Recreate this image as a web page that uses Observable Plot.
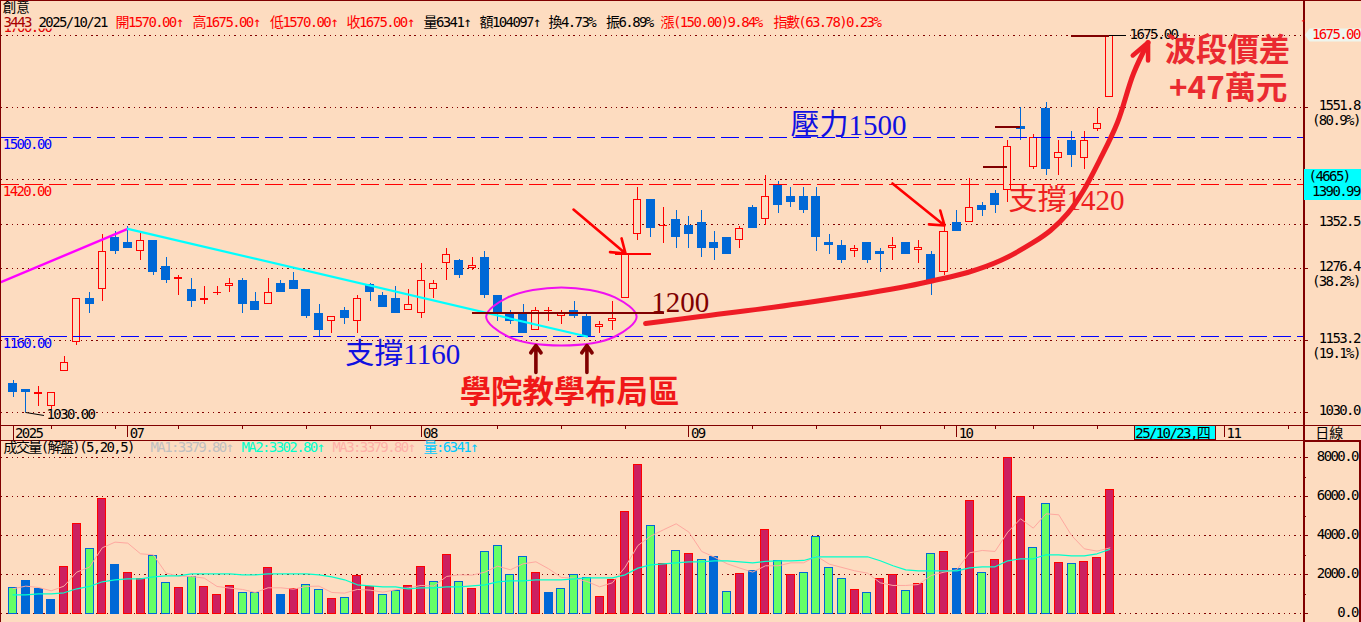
<!DOCTYPE html>
<html lang="zh-Hant">
<head>
<meta charset="utf-8">
<title>創意 3443 日線</title>
<script src="https://cdn.jsdelivr.net/npm/d3@7"></script>
<script src="https://cdn.jsdelivr.net/npm/@observablehq/plot@0.6"></script>
<style>
  html,body{margin:0;padding:0;background:#fddcc0;}
  #chart{position:relative;width:1361px;height:622px;overflow:hidden;background:#fddcc0;}
  #chart svg{position:absolute;left:0;display:block;}
  #edge{position:absolute;left:0;top:0;width:1361px;height:622px;box-sizing:border-box;border-top:1px solid #800000;border-left:1px solid #800000;pointer-events:none;}
  .mono text{letter-spacing:-1.6px;}
</style>
</head>
<body>
<div id="chart"><div id="edge"></div></div>
<script>
// ---------- price data (one entry per trading day) ----------
const opens = [1079.6,1069.3,1061.4,1040.8,1101.3,1150.9,1225,1241,1329.4,1320.9,1306,1324.3,1279.8,1258.7,1240.4,1223.3,1233.6,1246.1,1255.8,1219.9,1215.3,1250.7,1255.8,1240.4,1199.4,1186.8,1204.5,1186.8,1249,1230.2,1225,1205.6,1200.5,1241.6,1286.1,1290,1278,1295.1,1230.1,1199.3,1199.3,1171.4,1202.8,1195.4,1204.5,1194.2,1176.5,1186.8,1226.1,1335.6,1394.4,1349.3,1360.2,1349.9,1355,1320.8,1329.4,1325.4,1380.7,1361.3,1418.3,1399.5,1399.5,1399.5,1320.8,1315.7,1306.6,1320.8,1305.4,1311.7,1320.8,1307.2,1300.3,1270.7,1355.1,1355.7,1384.2,1404.7,1410.9,1519.3,1450.3,1550.1,1465.7,1495.4,1465.7,1515.3,1570];
const highs = [1084.7,1069.3,1074.5,1063.6,1125.8,1224.5,1235.3,1334.5,1339.7,1348.2,1339.7,1324.3,1295.2,1264.4,1259.3,1245.6,1245.6,1259.3,1259.3,1235.3,1259.3,1255.8,1269.5,1240.4,1214.8,1193.7,1209.6,1230.2,1250.7,1235.3,1245.6,1240.4,1284.9,1255.8,1310.6,1292,1294.6,1305.4,1230.1,1204.5,1214.7,1209.6,1209.6,1204.5,1219.9,1197,1185.7,1219.9,1300.3,1414.3,1394.4,1380.7,1375.6,1365.3,1375.6,1339.6,1329.4,1348.2,1384.1,1435.4,1425.2,1414.9,1414.9,1414.9,1334.5,1324.2,1315.7,1320.8,1310.5,1329.4,1320.8,1324.3,1304.9,1351.7,1375.6,1429.8,1389.3,1409.8,1495.4,1551.3,1505.1,1560.4,1495.4,1510.8,1510.8,1550.1,1675];
const lows = [1056.2,1030,1040.8,1035.1,1101.3,1144.6,1199.4,1219.9,1300.3,1310.6,1290,1264.4,1250.1,1230.2,1209.6,1214.8,1230.2,1235.3,1199.4,1204.5,1215.3,1235.3,1240.4,1190.8,1160,1165.2,1180.6,1165.2,1219.9,1209.6,1199.4,1205.6,1190.8,1225,1255.8,1259.3,1273,1225,1185.7,1180.5,1165.1,1171.4,1185.7,1180.5,1190.8,1160,1165.1,1170.3,1226.1,1324.2,1330,1319.1,1310.5,1310.5,1295.2,1290,1300.3,1310.5,1344.8,1350.5,1370.4,1380.7,1370.4,1305.4,1300.3,1284.9,1295.2,1284.9,1270.1,1290,1300.3,1285.5,1230.2,1263.8,1339.7,1355.7,1365.3,1370.5,1389.3,1495.4,1445.8,1435.5,1435.5,1449.2,1445.8,1510.8,1570];
const closes = [1064.2,1064.8,1063.6,1063.6,1115,1224.5,1214.8,1304.9,1305.5,1310.6,1323.7,1269.5,1255.8,1259.3,1219.9,1224.5,1234.7,1250.1,1214.8,1204.5,1234.7,1235.3,1240.4,1194.2,1170.3,1193.7,1190.8,1224.5,1235.3,1209.6,1199.4,1214.2,1255.3,1250.1,1299.8,1264.4,1279.8,1230.1,1201,1185.7,1165.1,1203.9,1204.5,1198.2,1194.2,1160,1180,1190.2,1300.3,1393.8,1345.3,1349.9,1329.4,1334.5,1310.5,1310.5,1300.3,1343.6,1344.8,1398.4,1384.1,1389.3,1375.6,1329.9,1316.3,1290,1310.5,1290,1300.9,1315.1,1300.3,1310.6,1255.8,1339.1,1339.7,1380.2,1375.6,1384.2,1484.5,1514.2,1499.9,1445.8,1474.3,1469.7,1494.8,1523.9,1675];

// ---------- volume panel ----------
const volumes = [1299,1658,1248,684,2376,4581,3299,5863,2479,2068,1761,2940,1556,1299,1863,1350,940,1402,1043,1043,2325,940,1248,1453,1197,735,786,1915,1350,940,1145,1402,2376,1607,2991,1607,1248,3145,3453,1966,2889,2068,1043,1248,1966,1846,838,1709,5197,7607,4479,2530,3197,3043,2735,2889,1094,2017,2171,4274,2718,1966,2068,3915,2325,1761,1197,1043,1761,1966,1145,1504,3043,3145,2274,5761,2068,2735,8000,5983,3350,5607,2581,2530,2632,2838,6341];
// C = crimson, G = green, B = blue
const volumeKinds = "GBBBCCGCBCCGGCGCCCGGCBCGGCGCCGGCCGCGCGGGGCBGGGCCCCGCGCGBGCBCGCGGGGCGCCGCGCBCGCCCGGCGCCC".split("");
const ma3 = [1282,1419,1350,1179,1419,2137,2393,3385,3675,3624,3077,3026,2085,1932,1915,1829,1402,1316,1248,1094,1333,1333,1265,1402,1419,1094,1060,1248,1214,1111,1231,1333,1453,1419,1915,2000,1983,2137,2444,2256,2564,2667,2308,1863,1829,1658,1385,1590,2393,3504,3983,4308,4615,4188,3197,2906,2564,2342,2137,2462,2462,2615,2615,2957,2547,2376,2205,2085,1590,1453,1453,1504,1966,2137,2256,3128,3248,3197,4188,4872,4393,5128,5077,4017,3333,3214,3380];
const ma2 = [974,974,1026,1026,1077,1282,1402,1641,1744,1795,1795,1897,1949,1949,2051,2051,2051,2051,2000,2000,2051,2051,2051,2051,2000,1897,1744,1487,1436,1385,1385,1282,1333,1333,1385,1385,1436,1487,1641,1692,1692,1744,1744,1744,1795,1846,1846,1846,2000,2342,2513,2564,2615,2667,2667,2718,2718,2667,2615,2684,2718,2718,2735,2923,2923,2923,2923,2923,2718,2462,2256,2205,2205,2205,2205,2359,2410,2410,2718,2821,2821,3026,3026,2974,2974,3077,3303];

// ---------- reference levels and ticks ----------
const gridPrices = [1675,1551.8,1428.6,1352.5,1276.4,1153.2,1030];
const axisPrices = [1551.8,1352.5,1276.4,1153.2,1030];
const axisPriceLabels = ["1551.8","1352.5","1276.4","1153.2","1030.0"];
const axisPercents = [[1551.8,"(80.9%)"],[1276.4,"(38.2%)"],[1153.2,"(19.1%)"]];
const dashedLevels = [[1500,"#0000ff","1500.00"],[1420,"#ff0000","1420.00"],[1160,"#0000ff","1160.00"]];
const minorDays = [3,8,13,18,23,28,38,43,48,58,63,68,73,77,80,85,100];
const monthDays = [0,9,32,53,74,95];
const monthLabels = ["2025","07","08","09","10","11"];
const volumeGrid = [0,2000,4000,6000,8000];
const volumeMinor = [1000,3000,5000,7000];

// ---------- drawn annotations, in (day index, price) ----------
const riseLine = [[-1,1252.4],[9,1344.2]];
const fallLine = [[9,1344.2],[45,1160]];
const zoneRing = [[37.1,1194],[38.8,1227],[43,1244],[47.2,1227],[48.9,1194],[47.2,1160],[43,1144.6],[38.8,1160]];
const waveCurve = [[49.6,1182.3],[53.9,1194.2],[61.75,1216.5],[69.6,1243.9],[72.2,1255.8],[74.85,1269.5],[77.43,1290],[80,1320.9],[81.35,1341.4],[82.7,1370.5],[83.94,1409.8],[85.27,1464.6],[86.6,1526.2],[87.86,1610],[89,1663]];
const waveHead = [[87.8,1640.8],[89,1663],[89,1632.2]];
const redArrows = [[43.95,1377.3,48.03,1302],[68.96,1421.8,73.04,1350]];
const brownArrows = [[41,1098.4,41,1144.6],[45,1098.4,45,1144.6]];
const brownSegments = [[36,51.1,1200],[76.1,78,1450],[77,79,1519.3],[83,86,1675]];
const redSegments = [[47.25,50.07,1301]];
const serifNotes = [
  ["壓力1500",60.97,1521,"#1010e0"],
  ["支撐1160",26.05,1129,"#1010e0"],
  ["1200",50.05,1218,"#800000"],
  ["支撐1420",78.05,1392.7,"#ee2020"]
];
const boldNotes = [
  ["學院教學布局區",35.02,1064,"#f01818"],
  ["波段價差",90.3,1649.3,"#ea2a30"],
  ["+47萬元",90.65,1584.3,"#ea2a30"]
];

// ---------- header strings ----------
const priceHeader = [
  ["3443",3,"#a80000"],["2025/10/21",38,"#000000"],
  ["開1570.00↑",115,"#ff0000"],["高1675.00↑",192,"#ff0000"],["低1570.00↑",269.5,"#ff0000"],["收1675.00↑",346,"#ff0000"],
  ["量6341↑",423,"#000000"],["額104097↑",479,"#000000"],["換4.73%",548,"#000000"],["振6.89%",605.6,"#000000"],
  ["漲(150.00)9.84%",660,"#ff0000"],["指數(63.78)0.23%",773,"#ff0000"]
];
const volumeHeader = [
  ["成交量(解盤)(5,20,5)",3,"#000000"],["MA1:3379.80↑",150,"#c0c0c0"],["MA2:3302.80↑",241,"#00ffcc"],
  ["MA3:3379.80↑",332,"#ffb0a8"],["量:6341↑",423,"#00c8ff"]
];

// ---------- shared styling ----------
const bg = "#fddcc0", maroon = "#800000", blue = "#0068d6", red = "#ff0000";
const monoFont = "'DejaVu Sans Mono','Noto Sans CJK TC',monospace";
const days = d3.range(opens.length);
const xDomain = {domain:[0,86],range:[12.5,1109.3],axis:null};
const rightEdge = 101.2, farRight = 105.6, leftEdge = -0.9, screenRight = 105.8;
const mono = {fontFamily:monoFont,fontSize:14,className:"mono"};
const crisp = {shapeRendering:"crispEdges"};

const up = days.filter(i => closes[i] >= opens[i]);
const down = days.filter(i => closes[i] < opens[i]);

const pricePlot = Plot.plot({
  width:1361,height:441,marginTop:0,marginBottom:0,marginLeft:0,marginRight:0,
  x:xDomain,
  y:{domain:[1030,1675],range:[412,35],axis:null},
  style:{background:"transparent",top:"0px"},
  marks:[
    // clipped 1700 label hidden by the header strip
    Plot.text(["1700.00"],{x:()=>-0.75,y:()=>1688.7,text:d=>d,textAnchor:"start",fill:"#e00000",...mono}),
    Plot.rect([0],{x1:()=>leftEdge,x2:()=>rightEdge,y1:()=>1686,y2:()=>1733,fill:bg}),
    // grid
    Plot.ruleY(gridPrices,{x1:()=>leftEdge,x2:()=>rightEdge,stroke:maroon,strokeDasharray:"1.4,3.9",strokeWidth:1,...crisp}),
    // wicks
    Plot.ruleX(down,{x:i=>i,y1:i=>lows[i],y2:i=>highs[i],stroke:blue,strokeWidth:1,...crisp}),
    Plot.ruleX(up,{x:i=>i,y1:i=>lows[i],y2:i=>highs[i],stroke:red,strokeWidth:1,...crisp}),
    // bodies
    Plot.rect(down,{x1:i=>i-0.353,x2:i=>i+0.353,y1:i=>opens[i],y2:i=>closes[i],fill:blue,...crisp}),
    Plot.rect(up,{x1:i=>i-0.275,x2:i=>i+0.275,y1:i=>opens[i],y2:i=>closes[i],fill:bg,stroke:red,strokeWidth:1,...crisp}),
    // dashed levels
    Plot.ruleY(dashedLevels,{y:d=>d[0],x1:()=>leftEdge,x2:()=>rightEdge,stroke:d=>d[1],strokeDasharray:"18,6",strokeWidth:1,...crisp}),
    Plot.text(dashedLevels,{x:()=>-0.8,y:d=>d[0],dy:7,text:d=>d[2],fill:d=>d[1],textAnchor:"start",...mono}),
    // trend lines and zone ring
    Plot.line(riseLine,{x:d=>d[0],y:d=>d[1],stroke:"#ff00ff",strokeWidth:2.4}),
    Plot.line(fallLine,{x:d=>d[0],y:d=>d[1],stroke:"#00ffff",strokeWidth:2.2}),
    Plot.line(zoneRing,{x:d=>d[0],y:d=>d[1],stroke:"#f010f0",strokeWidth:2,curve:"catmull-rom-closed"}),
    // annotated price segments
    Plot.ruleY(brownSegments,{y:d=>d[2],x1:d=>d[0],x2:d=>d[1],stroke:maroon,strokeWidth:2,...crisp}),
    Plot.ruleY(redSegments,{y:d=>d[2],x1:d=>d[0],x2:d=>d[1],stroke:red,strokeWidth:2,...crisp}),
    // big rising curve
    Plot.line(waveCurve,{x:d=>d[0],y:d=>d[1],stroke:"#ee1c25",strokeWidth:5,curve:"catmull-rom"}),
    Plot.line(waveHead,{x:d=>d[0],y:d=>d[1],stroke:"#ee1c25",strokeWidth:4.5}),
    // arrows
    Plot.arrow(redArrows,{x1:d=>d[0],y1:d=>d[1],x2:d=>d[2],y2:d=>d[3],stroke:red,strokeWidth:2.6,headLength:9,headAngle:70}),
    Plot.arrow(brownArrows,{x1:d=>d[0],y1:d=>d[1],x2:d=>d[2],y2:d=>d[3],stroke:maroon,strokeWidth:3.6,headLength:9,headAngle:70}),
    // high / low labels
    Plot.line([[1,1030],[2.4,1025]],{x:d=>d[0],y:d=>d[1],stroke:"#000000",strokeWidth:1}),
    Plot.text(["1030.00"],{x:()=>2.63,y:()=>1025.8,text:d=>d,textAnchor:"start",fill:"#000000",...mono}),
    Plot.ruleY([1675],{x1:()=>86,x2:()=>87.3,stroke:"#000000",strokeWidth:1,...crisp}),
    Plot.text(["1675.00"],{x:()=>87.55,y:()=>1676.7,text:d=>d,textAnchor:"start",fill:"#000000",...mono}),
    // notes
    Plot.text(serifNotes,{text:d=>d[0],x:d=>d[1],y:d=>d[2],fill:d=>d[3],textAnchor:"start",fontFamily:"'Liberation Serif','Noto Sans CJK TC',serif",fontSize:29}),
    Plot.text(boldNotes,{text:d=>d[0],x:d=>d[1],y:d=>d[2],fill:d=>d[3],textAnchor:"start",fontFamily:"'Noto Sans CJK TC','Noto Sans',sans-serif",fontWeight:700,fontSize:31.4}),
    // header
    Plot.text(["創意"],{x:()=>-0.8,y:()=>1722,text:d=>d,textAnchor:"start",fill:"#000000",fontFamily:monoFont,fontSize:13.5}),
    Plot.text(priceHeader,{text:d=>d[0],x:d=>(d[1]-12.5)/12.7535,y:()=>1697,textAnchor:"start",fill:d=>d[2],...mono}),
    // right axis
    Plot.ruleX([rightEdge],{y1:()=>982,y2:()=>1733,stroke:maroon,strokeWidth:2,...crisp}),
    Plot.ruleY(axisPrices,{x1:()=>rightEdge,x2:()=>rightEdge+0.35,stroke:maroon,...crisp}),
    Plot.ruleY([1700],{x1:()=>rightEdge-0.1,x2:()=>rightEdge+0.1,stroke:red}),
    Plot.text(axisPrices,{x:()=>farRight,y:d=>d,dy:-2,text:(d,i)=>axisPriceLabels[i],textAnchor:"end",fill:"#000000",...mono}),
    Plot.text(axisPercents,{x:()=>farRight,y:d=>d[0],dy:13,text:d=>d[1],textAnchor:"end",fill:"#000000",...mono}),
    Plot.line([[101.3,1675.9],[101.66,1687],[screenRight,1687],[screenRight,1664.7],[101.66,1664.7]],{x:d=>d[0],y:d=>d[1],fill:"#eef5ee",stroke:"none"}),
    Plot.text(["1675.00"],{x:()=>farRight,y:()=>1675.9,text:d=>d,textAnchor:"end",fill:red,...mono}),
    Plot.rect([0],{x1:()=>rightEdge+0.06,x2:()=>screenRight,y1:()=>1392.6,y2:()=>1445.2,fill:"#00ffff",...crisp}),
    Plot.text(["(4665)"],{x:()=>104.8,y:()=>1434,text:d=>d,textAnchor:"end",fill:"#000000",...mono}),
    Plot.text(["1390.99"],{x:()=>farRight,y:()=>1408,text:d=>d,textAnchor:"end",fill:"#000000",...mono}),
    // time axis
    Plot.ruleY([1007.8,982],{x1:()=>leftEdge,x2:()=>screenRight,stroke:maroon,strokeWidth:1.4,...crisp}),
    Plot.ruleX(minorDays,{x:d=>d,y1:()=>1007.8,y2:()=>1001,stroke:maroon,...crisp}),
    Plot.ruleX(monthDays,{x:d=>d,y1:()=>1007.8,y2:(d,i)=>i===0?982:987,stroke:maroon,...crisp}),
    Plot.text(monthDays,{x:d=>d,y:()=>994.5,dx:2,text:(d,i)=>monthLabels[i],textAnchor:"start",fill:"#000000",...mono}),
    Plot.rect([0],{x1:()=>87.94,x2:()=>94.3,y1:()=>982.5,y2:()=>1007,fill:"#00ffff",stroke:maroon,...crisp}),
    Plot.text(["25/10/23,四"],{x:()=>88.0,y:()=>994.5,text:d=>d,textAnchor:"start",fill:"#000000",...mono}),
    Plot.text(["日線"],{x:()=>102.1,y:()=>994,text:d=>d,textAnchor:"start",fill:"#000000",fontFamily:monoFont,fontSize:14})
  ]
});

const kindFill = {C:"#cc2060",G:"#66ff66",B:blue};
const kindStroke = {C:"#ff0000",G:blue,B:blue};
const volumePlot = Plot.plot({
  width:1361,height:182,marginTop:0,marginBottom:0,marginLeft:0,marginRight:0,
  x:xDomain,
  y:{domain:[0,8000],range:[173.3,17.3],axis:null},
  style:{background:"transparent",top:"440px"},
  marks:[
    Plot.ruleY(volumeGrid,{x1:()=>leftEdge,x2:()=>rightEdge,stroke:maroon,strokeDasharray:"1.4,3.9",strokeWidth:1,...crisp}),
    Plot.rect(days,{x1:i=>i-0.314,x2:i=>i+0.314,y1:()=>0,y2:i=>volumes[i],fill:i=>kindFill[volumeKinds[i]],stroke:i=>kindStroke[volumeKinds[i]],strokeWidth:1,...crisp}),
    Plot.line(days,{x:i=>i,y:i=>ma3[i],stroke:"#ffa8a0",strokeWidth:1}),
    Plot.line(days,{x:i=>i,y:i=>ma2[i],stroke:"#00ffcc",strokeWidth:1.2}),
    Plot.ruleX([rightEdge],{y1:()=>-500,y2:()=>9000,stroke:maroon,strokeWidth:2,...crisp}),
    Plot.rect([0],{x1:()=>rightEdge+0.08,x2:()=>105.62,y1:()=>-500,y2:()=>8850,fill:"none",stroke:maroon,strokeWidth:2,...crisp}),
    Plot.ruleY(volumeGrid,{x1:()=>rightEdge,x2:()=>rightEdge+0.35,stroke:maroon,...crisp}),
    Plot.ruleY(volumeMinor,{x1:()=>rightEdge,x2:()=>rightEdge+0.2,stroke:maroon,...crisp}),
    Plot.text(volumeGrid,{x:()=>105.45,y:d=>d,dy:-1,text:d=>d.toFixed(1),textAnchor:"end",fill:"#000000",...mono}),
    Plot.text(volumeHeader,{text:d=>d[0],x:d=>(d[1]-12.5)/12.7535,y:()=>8530,textAnchor:"start",fill:d=>d[2],...mono})
  ]
});

const host = document.getElementById("chart");
host.insertBefore(pricePlot, host.firstChild);
host.insertBefore(volumePlot, pricePlot.nextSibling);
</script>
</body>
</html>
